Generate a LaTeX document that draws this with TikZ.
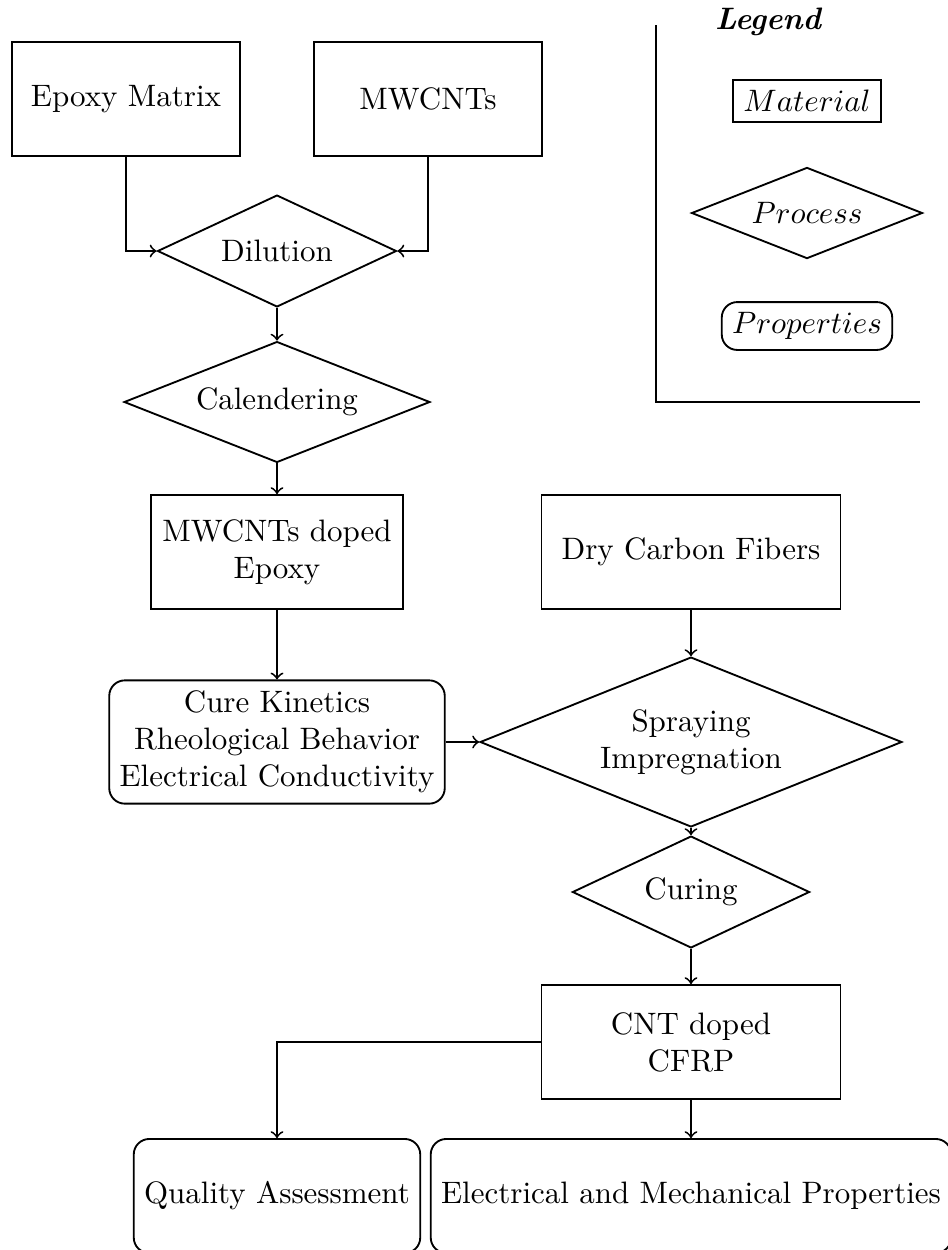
\documentclass[tikz,border=0pt]{standalone}
\usepackage{amsmath}
\usepackage{tikz}
\usetikzlibrary{shapes.geometric}
\tikzset{material/.style={draw, rectangle, minimum width=73.6pt, minimum height=36.8pt, align=center},
 process/.style={draw, diamond, aspect=2.5, inner sep=1pt, align=center},
 property/.style={draw, rectangle, rounded corners=5pt, align=center},
 flow/.style={->},
 }

\begin{document}
\begin{tikzpicture}[x=0.3226pt, y=-0.3226pt, semithick]
    \useasboundingbox (0,0) rectangle (948,1250);
    % raw materials and mixing
    \node[material] (epoxy) at (126,99) {Epoxy Matrix};
    \node[material] (mwcnt) at (428,99) {MWCNTs};
    \node[process, minimum width=77.1pt, minimum height=36.1pt] (dilution) at (277,251) {Dilution};
    \node[process, minimum width=98.7pt, minimum height=39pt] (calender) at (277,402) {Calendering};
    \node[material, minimum width=81.3pt] (doped) at (277,552) {MWCNTs doped\\Epoxy};
    \node[property] (props) at (277,742) {Cure Kinetics\\Rheological Behavior\\Electrical Conductivity};
    % composite manufacturing
    \node[material, minimum width=96.5pt] (fibers) at (691,552) {Dry Carbon Fibers};
    \node[process, minimum width=136.1pt, minimum height=54.8pt] (spray) at (691,742) {Spraying\\Impregnation};
    \node[process, minimum width=76.5pt, minimum height=36.1pt] (curing) at (691,892) {Curing};
    \node[material, minimum width=96.5pt] (cfrp) at (691,1042) {CNT doped\\CFRP};
    \node[property, minimum height=36.8pt] (quality) at (277,1196) {Quality Assessment};
    \node[property, minimum height=36.8pt] (elecmech) at (691,1196) {Electrical and Mechanical Properties};

    \draw[flow] (epoxy) |- (dilution);
    \draw[flow] (mwcnt) |- (dilution);
    \draw[flow] (dilution) -- (calender);
    \draw[flow] (calender) -- (doped);
    \draw[flow] (doped) -- (props);
    \draw[flow] (props) -- (spray);
    \draw[flow] (fibers) -- (spray);
    \draw[flow] (spray) -- (curing);
    \draw[flow] (curing) -- (cfrp);
    \draw[flow] (cfrp) -| (quality);
    \draw[flow] (cfrp) -- (elecmech);

    % legend
    \node[font=\bfseries\itshape] (legtitle) at (768,22) {Legend};
    \node[draw, rectangle] (legmat) at (807,101) {$Material$};
    \node[process, minimum width=74.5pt, minimum height=29.4pt] (legproc) at (807,213) {$Process$};
    \node[property] (legprop) at (807,326) {$Properties$};
    \draw (656,25) -- (656,402) -- (920,402);
\end{tikzpicture}
\end{document}
